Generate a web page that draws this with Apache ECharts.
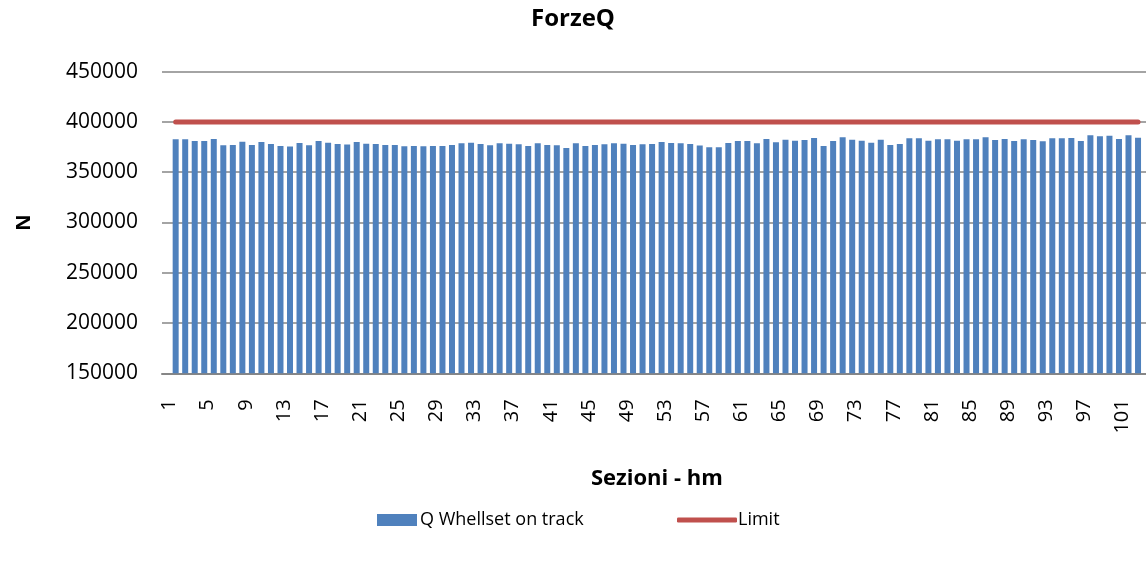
<!DOCTYPE html>
<html>
<head>
<meta charset="utf-8">
<script src="https://cdn.jsdelivr.net/npm/echarts@6/dist/echarts.min.js"></script>
<style>
html,body{margin:0;padding:0;background:#fff;}
#chart{width:1146px;height:563px;}
</style>
</head>
<body>
<div id="chart"></div>
<script>
const titleText = 'ForzeQ';
const xAxisName = 'Sezioni - hm';
const yAxisName = 'N';
const barName = 'Q Whellset on track';
const lineName = 'Limit';
const yTicks = [150000, 200000, 250000, 300000, 350000, 400000, 450000];
const qValues = [
  382800, 382800, 381100, 381100, 383100, 376800, 377100, 380400, 377100, 380100,
  378100, 376100, 375500, 379100, 376800, 381100, 379400, 378100, 377500, 380100,
  378400, 378100, 377100, 377100, 375800, 376100, 375800, 376100, 376100, 377100,
  378800, 379400, 378100, 376800, 378800, 378400, 377800, 376100, 378800, 377100,
  376800, 374100, 378800, 376100, 377100, 377800, 378800, 378400, 377100, 377800,
  378100, 380100, 379100, 378800, 378100, 376500, 374800, 374800, 379100, 381100,
  381100, 378800, 383100, 379800, 382400, 381400, 382100, 384100, 376100, 381100,
  384800, 382400, 381400, 379400, 382400, 377100, 378100, 383800, 383800, 381400,
  382800, 382800, 381400, 382800, 382800, 384800, 382100, 383100, 381100, 382800,
  382100, 380800, 383800, 383800, 384100, 381100, 386700, 385700, 386400, 383100,
  386700, 384400
];
const categories = qValues.map((v, i) => String(i + 1));
const limitValues = qValues.map(() => 400000);

const FONT = '"Open Sans", "Noto Sans", sans-serif';
const chart = echarts.init(document.getElementById('chart'));
const yMin = yTicks[0], yMax = yTicks[yTicks.length - 1], yStep = yTicks[1] - yTicks[0];

chart.setOption({
  animation: false,
  backgroundColor: '#ffffff',
  title: {
    text: titleText,
    left: 'center',
    top: 2,
    textStyle: {fontFamily: FONT, fontWeight: 'bold', fontSize: 24, color: '#000'}
  },
  legend: [
    {
      data: [{name: barName, icon: 'rect'}],
      left: 372, top: 506,
      itemWidth: 40, itemHeight: 12, itemGap: 0,
      textStyle: {fontFamily: FONT, fontSize: 18, color: '#000', padding: [0, 0, 0, -2]}
    },
    {
      data: [{name: lineName, icon: 'roundRect'}],
      left: 672, top: 506,
      itemWidth: 60, itemHeight: 5, itemGap: 0,
      itemStyle: {color: '#C0504D'},
      textStyle: {fontFamily: FONT, fontSize: 18, color: '#000', padding: [0, 0, 0, -4]}
    }
  ],
  grid: [
    {left: 162, right: -10, top: 71.7, bottom: 189.7},
    {left: 170.9, right: 3.2, top: 71.7, bottom: 189.7}
  ],
  xAxis: [
    {
      type: 'value', gridIndex: 0, min: 0, max: 1,
      axisLine: {show: true, lineStyle: {color: '#868686', width: 2}},
      axisTick: {show: false}, axisLabel: {show: false}, splitLine: {show: false}
    },
    {
      type: 'category', gridIndex: 1, data: categories,
      axisLine: {show: false}, axisTick: {show: false},
      axisLabel: {
        interval: 3, rotate: 90, margin: 26,
        fontFamily: FONT, fontSize: 20, color: '#000',
        verticalAlign: 'bottom', lineHeight: 12
      },
      name: xAxisName, nameLocation: 'middle', nameGap: 94,
      nameTextStyle: {fontFamily: FONT, fontWeight: 'bold', fontSize: 22, color: '#000'}
    }
  ],
  yAxis: [
    {
      type: 'value', gridIndex: 0, min: yMin, max: yMax, interval: yStep,
      axisLine: {show: false}, axisTick: {show: false},
      axisLabel: {margin: 24, fontFamily: FONT, fontSize: 21, color: '#000',
        formatter: (v) => String(v)},
      splitLine: {show: true, showMinLine: false, lineStyle: {color: '#868686', width: 1.5}},
      name: yAxisName, nameLocation: 'middle', nameGap: 128, nameRotate: 90,
      nameTextStyle: {fontFamily: FONT, fontWeight: 'bold', fontSize: 20, color: '#000'}
    },
    {
      type: 'value', gridIndex: 1, min: yMin, max: yMax, interval: yStep, show: false,
      splitLine: {show: false}
    }
  ],
  series: [
    {
      name: barName, type: 'bar', xAxisIndex: 1, yAxisIndex: 1,
      data: qValues, barWidth: 6,
      itemStyle: {color: '#4F81BD'}
    },
    {
      name: lineName, type: 'line', xAxisIndex: 1, yAxisIndex: 1,
      data: limitValues, symbol: 'none',
      lineStyle: {color: '#C0504D', width: 5, cap: 'round'},
      itemStyle: {color: '#C0504D'}
    }
  ]
});
</script>
</body>
</html>
